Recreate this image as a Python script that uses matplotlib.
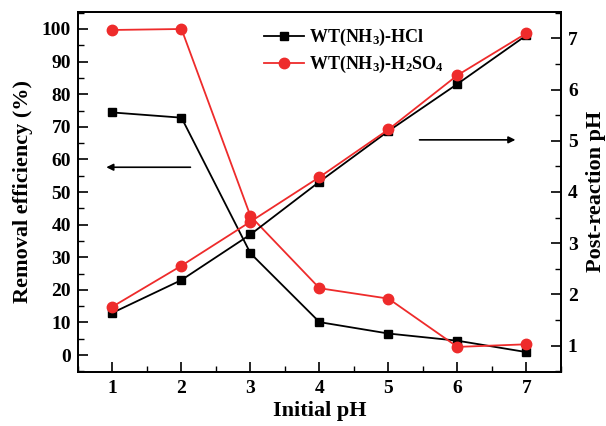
import matplotlib
matplotlib.use("Agg")
import matplotlib.pyplot as plt
from matplotlib.ticker import MultipleLocator

plt.rcParams['font.family'] = ['Liberation Serif', 'DejaVu Serif']
plt.rcParams['font.weight'] = 'bold'
plt.rcParams['mathtext.fontset'] = 'custom'
plt.rcParams['mathtext.rm'] = 'Liberation Serif:bold'
plt.rcParams['mathtext.it'] = 'Liberation Serif:bold'
plt.rcParams['mathtext.bf'] = 'Liberation Serif:bold'
plt.rcParams['mathtext.default'] = 'rm'

initial_ph = [1, 2, 3, 4, 5, 6, 7]
removal_hcl = [74.4, 72.8, 31.2, 10.1, 6.6, 4.4, 0.9]
removal_h2so4 = [99.7, 100.0, 42.6, 20.5, 17.3, 2.5, 3.3]
post_ph_hcl = [1.64, 2.28, 3.17, 4.20, 5.19, 6.11, 7.06]
post_ph_h2so4 = [1.76, 2.56, 3.42, 4.29, 5.22, 6.28, 7.10]

label_hcl = 'WT(NH$_3$)-HCl'
label_h2so4 = 'WT(NH$_3$)-H$_2$SO$_4$'
red = '#ee2b2b'

fig = plt.figure(figsize=(6.06, 4.26), dpi=100)
ax = fig.add_axes([0.1287, 0.1275, 0.797, 0.845])
ax2 = ax.twinx()

l1, = ax.plot(initial_ph, removal_hcl, color='black', marker='s', markersize=5.5, lw=1.3, label=label_hcl)
l2, = ax.plot(initial_ph, removal_h2so4, color=red, marker='o', markersize=7.5, lw=1.3, label=label_h2so4)
ax2.plot(initial_ph, post_ph_hcl, color='black', marker='s', markersize=5.5, lw=1.3)
ax2.plot(initial_ph, post_ph_h2so4, color=red, marker='o', markersize=7.5, lw=1.3)

ax.set_xlim(0.5, 7.5)
ax.set_ylim(-5.1, 105.3)
ax2.set_ylim(0.49, 7.52)

ax.xaxis.set_major_locator(MultipleLocator(1))
ax.xaxis.set_minor_locator(MultipleLocator(0.5))
ax.yaxis.set_major_locator(MultipleLocator(10))
ax.yaxis.set_minor_locator(MultipleLocator(5))
ax2.yaxis.set_major_locator(MultipleLocator(1))
ax2.yaxis.set_minor_locator(MultipleLocator(0.5))

for a in (ax, ax2):
    a.tick_params(which='major', direction='in', length=7, width=1.2, labelsize=14)
    a.tick_params(which='minor', direction='in', length=4, width=1.0)
    for s in a.spines.values():
        s.set_linewidth(1.3)
ax.tick_params(axis='x', which='both', top=False, pad=6)
ax.tick_params(axis='y', which='both', right=False, pad=5)
ax2.tick_params(axis='y', which='both', left=False, pad=5)

for lab in ax.get_xticklabels() + ax.get_yticklabels() + ax2.get_yticklabels():
    lab.set_fontweight('bold')

ax.set_xlabel('Initial pH', fontsize=16, fontweight='bold', labelpad=3)
ax.set_ylabel('Removal efficiency (%)', fontsize=16, fontweight='bold', labelpad=6)
ax2.set_ylabel('Post-reaction pH', fontsize=16, fontweight='bold', labelpad=6)

ax.annotate('', xy=(0.87, 57.6), xytext=(2.17, 57.6),
            arrowprops=dict(arrowstyle='-|>', color='black', lw=1.2, mutation_scale=10))
ax.annotate('', xy=(6.88, 66.0), xytext=(5.41, 66.0),
            arrowprops=dict(arrowstyle='-|>', color='black', lw=1.2, mutation_scale=10))

leg = ax.legend(handles=[l1, l2], loc='upper left', bbox_to_anchor=(0.352, 1.003),
                frameon=False, handlelength=2.2, handletextpad=0.3,
                labelspacing=0.35, prop={'weight': 'bold', 'size': 13})

fig.savefig('out.png', dpi=100)
